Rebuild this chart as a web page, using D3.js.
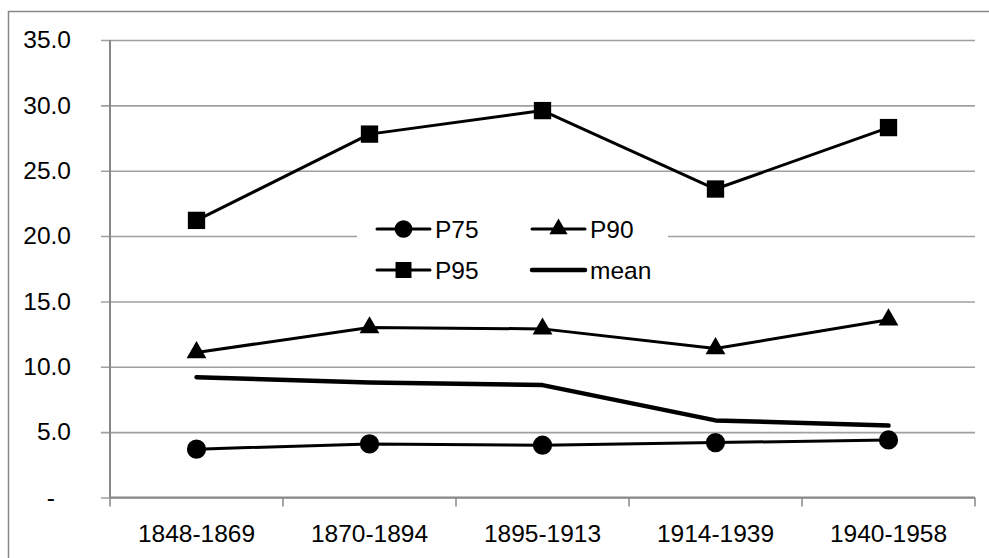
<!DOCTYPE html>
<html>
<head>
<meta charset="utf-8">
<script src="https://cdn.jsdelivr.net/npm/d3@7"></script>
<style>
  body { margin: 0; background: #fff; }
  svg { display: block; font-family: "Liberation Sans", Arial, sans-serif; }
</style>
</head>
<body>
<svg id="chart" width="989" height="558"></svg>
<script>
// data
const categories = ["1848-1869", "1870-1894", "1895-1913", "1914-1939", "1940-1958"];
const p75 = [3.7, 4.1, 4.0, 4.2, 4.4];
const p90 = [11.1, 13.0, 12.9, 11.4, 13.6];
const p95 = [21.2, 27.8, 29.6, 23.6, 28.3];
const meanValues = [9.2, 8.8, 8.6, 5.9, 5.5];
const yTicks = [0, 5, 10, 15, 20, 25, 30, 35];

const svg = d3.select("#chart");
const margin = { left: 110, right: 14, top: 40, bottom: 60 };
const W = 989, H = 558;
const fontSize = 24.5;
const gridColor = "#a0a0a0";
const axisColor = "#878787";

// outer chart border (only left and top are inside the window)
svg.append("rect")
  .attr("x", 8.5).attr("y", 11.5)
  .attr("width", 1000).attr("height", 600)
  .attr("fill", "none").attr("stroke", axisColor).attr("stroke-width", 1.5);

const x = d3.scaleBand()
  .domain(categories)
  .range([margin.left, W - margin.right]);
const y = d3.scaleLinear()
  .domain([0, 35])
  .range([H - margin.bottom - 0.5, margin.top]);

// horizontal gridlines + y labels
const yAxis = svg.append("g")
  .attr("transform", `translate(${margin.left},0)`)
  .call(d3.axisLeft(y)
    .tickValues(yTicks)
    .tickSize(9)
    .tickFormat((d) => (d === 0 ? "-" : d3.format(".1f")(d))));
yAxis.select(".domain").remove();
yAxis.selectAll(".tick line").attr("stroke", gridColor).attr("stroke-width", 1.6)
  .attr("x2", W - margin.right - margin.left).attr("x1", -9);
yAxis.selectAll(".tick text")
  .attr("x", -39)
  .attr("dx", (d) => (d === 0 ? -16 : 0))
  .attr("font-size", fontSize)
  .attr("font-family", "Liberation Sans, Arial, sans-serif")
  .attr("fill", "#000");

// x axis with ticks between categories
const x0 = y(0);
const xAxis = svg.append("g");
xAxis.append("line")
  .attr("x1", margin.left).attr("x2", W - margin.right)
  .attr("y1", x0).attr("y2", x0)
  .attr("stroke", axisColor).attr("stroke-width", 2);
const bounds = categories.map((c) => x(c)).concat([x(categories[categories.length - 1]) + x.bandwidth()]);
xAxis.selectAll(".xtick")
  .data(bounds)
  .join("line")
  .attr("x1", (d) => d).attr("x2", (d) => d)
  .attr("y1", x0).attr("y2", x0 + 9)
  .attr("stroke", axisColor).attr("stroke-width", 1.5);
xAxis.selectAll(".xlabel")
  .data(categories)
  .join("text")
  .attr("x", (d) => x(d) + x.bandwidth() / 2)
  .attr("y", 542)
  .attr("text-anchor", "middle")
  .attr("font-size", fontSize)
  .text((d) => d);

// y axis line
svg.append("line")
  .attr("x1", margin.left).attr("x2", margin.left)
  .attr("y1", margin.top).attr("y2", x0)
  .attr("stroke", axisColor).attr("stroke-width", 2);

const cx = (i) => x(categories[i]) + x.bandwidth() / 2;

const series = [
  { name: "P75", values: p75, symbol: d3.symbolCircle, size: 290, width: 3 },
  { name: "P90", values: p90, symbol: d3.symbolTriangle, size: 170, width: 3 },
  { name: "P95", values: p95, symbol: d3.symbolSquare, size: 300, width: 3 },
  { name: "mean", values: meanValues, symbol: null, size: 0, width: 4.5 }
];

// legend background (drawn before lines, covers gridlines)
const legendBox = { x: 357, y: 212, w: 311, h: 84 };
svg.append("rect")
  .attr("x", legendBox.x).attr("y", legendBox.y)
  .attr("width", legendBox.w).attr("height", legendBox.h)
  .attr("fill", "#fff");

const line = d3.line().x((d, i) => cx(i)).y((d) => y(d));

series.forEach((s) => {
  const g = svg.append("g").attr("class", "series");
  g.append("path")
    .datum(s.values)
    .attr("d", line)
    .attr("fill", "none")
    .attr("stroke", "#000")
    .attr("stroke-width", s.width)
    .attr("stroke-linejoin", "round")
    .attr("stroke-linecap", "round");
  if (s.symbol) {
    g.selectAll("path.marker")
      .data(s.values)
      .join("path")
      .attr("class", "marker")
      .attr("transform", (d, i) => `translate(${cx(i)},${y(d)})`)
      .attr("d", d3.symbol(s.symbol, s.size))
      .attr("fill", "#000");
  }
});

// legend entries, 2 x 2
const legendPos = [
  { lx: 377, ty: 229 }, { lx: 532, ty: 229 },
  { lx: 377, ty: 270 }, { lx: 532, ty: 270 }
];
series.forEach((s, i) => {
  const p = legendPos[i];
  const g = svg.append("g").attr("class", "legend-item");
  g.append("line")
    .attr("x1", p.lx).attr("x2", p.lx + 53)
    .attr("y1", p.ty).attr("y2", p.ty)
    .attr("stroke", "#000").attr("stroke-width", s.width)
    .attr("stroke-linecap", "round");
  if (s.symbol) {
    g.append("path")
      .attr("transform", `translate(${p.lx + 26.5},${p.ty})`)
      .attr("d", d3.symbol(s.symbol, s.size * 0.85))
      .attr("fill", "#000");
  }
  g.append("text")
    .attr("x", p.lx + 58)
    .attr("y", p.ty)
    .attr("dy", "0.35em")
    .attr("font-size", fontSize)
    .text(s.name);
});
</script>
</body>
</html>
